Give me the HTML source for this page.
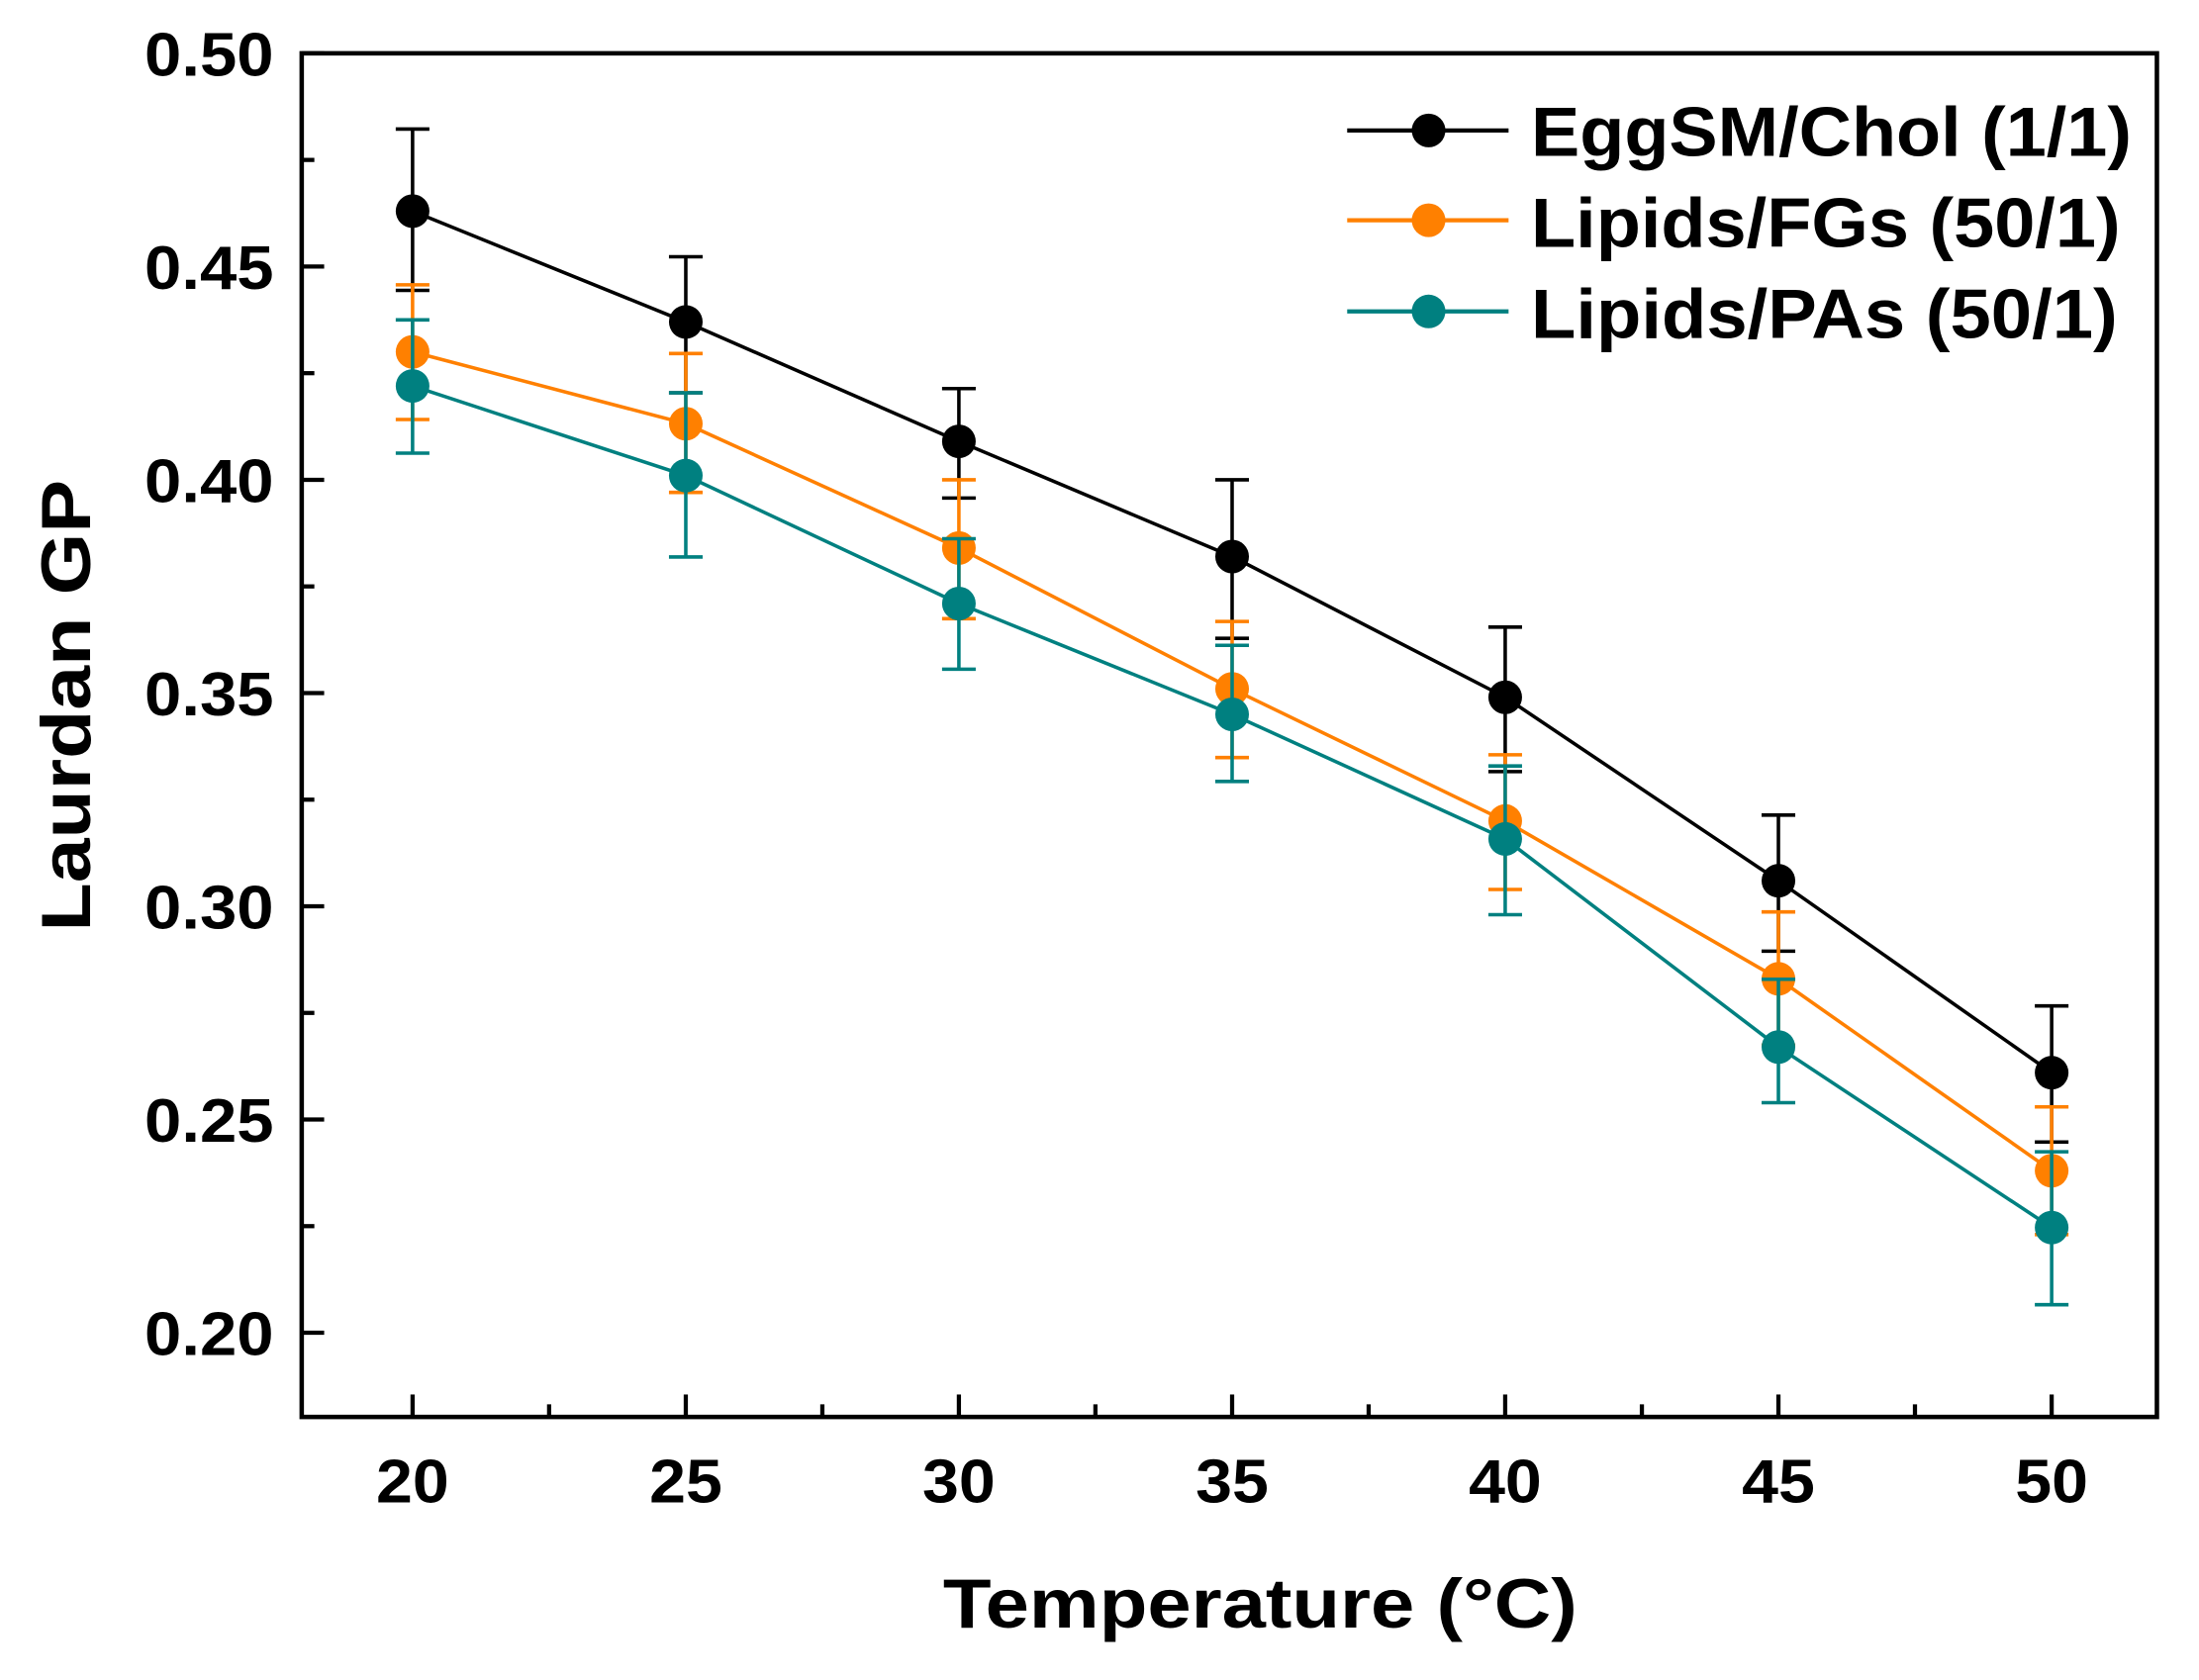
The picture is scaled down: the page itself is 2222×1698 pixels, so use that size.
<!DOCTYPE html>
<html><head><meta charset="utf-8"><style>
html,body{margin:0;padding:0;background:#fff;}
svg{display:block;}
text{font-family:"Liberation Sans",Arial,sans-serif;font-weight:bold;fill:#000;}
</style></head><body>
<svg width="2222" height="1698" viewBox="0 0 1567 1197.5" preserveAspectRatio="none" xmlns="http://www.w3.org/2000/svg">
<rect width="1567" height="1198" fill="#fff"/>
<rect x="215" y="38" width="1322" height="972" fill="none" stroke="#000" stroke-width="3.2"/>
<g stroke="#000" stroke-width="3">
<line x1="215" y1="38" x2="231" y2="38"/><line x1="215" y1="190" x2="231" y2="190"/><line x1="215" y1="342" x2="231" y2="342"/><line x1="215" y1="494" x2="231" y2="494"/><line x1="215" y1="646" x2="231" y2="646"/><line x1="215" y1="798" x2="231" y2="798"/><line x1="215" y1="950" x2="231" y2="950"/>
<line x1="215" y1="114" x2="224" y2="114"/><line x1="215" y1="266" x2="224" y2="266"/><line x1="215" y1="418" x2="224" y2="418"/><line x1="215" y1="570" x2="224" y2="570"/><line x1="215" y1="722" x2="224" y2="722"/><line x1="215" y1="874" x2="224" y2="874"/>
<line x1="294" y1="1010" x2="294" y2="994"/><line x1="488.7" y1="1010" x2="488.7" y2="994"/><line x1="683.3" y1="1010" x2="683.3" y2="994"/><line x1="878" y1="1010" x2="878" y2="994"/><line x1="1072.6" y1="1010" x2="1072.6" y2="994"/><line x1="1267.3" y1="1010" x2="1267.3" y2="994"/><line x1="1462" y1="1010" x2="1462" y2="994"/>
<line x1="391.3" y1="1010" x2="391.3" y2="1001"/><line x1="586" y1="1010" x2="586" y2="1001"/><line x1="780.6" y1="1010" x2="780.6" y2="1001"/><line x1="975.3" y1="1010" x2="975.3" y2="1001"/><line x1="1170" y1="1010" x2="1170" y2="1001"/><line x1="1364.6" y1="1010" x2="1364.6" y2="1001"/>
</g>
<g font-size="44" text-anchor="end">
<text x="195" y="54" textLength="92" lengthAdjust="spacingAndGlyphs">0.50</text><text x="195" y="206" textLength="92" lengthAdjust="spacingAndGlyphs">0.45</text><text x="195" y="358" textLength="92" lengthAdjust="spacingAndGlyphs">0.40</text><text x="195" y="510" textLength="92" lengthAdjust="spacingAndGlyphs">0.35</text><text x="195" y="662" textLength="92" lengthAdjust="spacingAndGlyphs">0.30</text><text x="195" y="814" textLength="92" lengthAdjust="spacingAndGlyphs">0.25</text><text x="195" y="966" textLength="92" lengthAdjust="spacingAndGlyphs">0.20</text>
</g>
<g font-size="44" text-anchor="middle">
<text x="294" y="1071" textLength="52" lengthAdjust="spacingAndGlyphs">20</text><text x="488.7" y="1071" textLength="52" lengthAdjust="spacingAndGlyphs">25</text><text x="683.3" y="1071" textLength="52" lengthAdjust="spacingAndGlyphs">30</text><text x="878" y="1071" textLength="52" lengthAdjust="spacingAndGlyphs">35</text><text x="1072.6" y="1071" textLength="52" lengthAdjust="spacingAndGlyphs">40</text><text x="1267.3" y="1071" textLength="52" lengthAdjust="spacingAndGlyphs">45</text><text x="1462" y="1071" textLength="52" lengthAdjust="spacingAndGlyphs">50</text>
</g>
<text x="898" y="1160" font-size="50" text-anchor="middle" textLength="452" lengthAdjust="spacingAndGlyphs">Temperature (°C)</text>
<text transform="translate(64,503) rotate(-90)" font-size="50" text-anchor="middle" textLength="322" lengthAdjust="spacingAndGlyphs">Laurdan GP</text>

<g stroke="#000" stroke-width="2.5" fill="none">
<path d="M294 92V207M282 92H306M282 207H306 M488.7 183V280M476.7 183H500.7M476.7 280H500.7 M683.3 277V355M671.3 277H695.3M671.3 355H695.3 M878 342V455M866 342H890M866 455H890 M1072.6 447V550M1060.6 447H1084.6M1060.6 550H1084.6 M1267.3 581V678M1255.3 581H1279.3M1255.3 678H1279.3 M1462 717V814M1450 717H1474M1450 814H1474"/>
<polyline points="294,150.5 488.7,229.5 683.3,314.6 878,396.7 1072.6,497 1267.3,627.8 1462,764.6"/>
</g>
<g fill="#000"><circle cx="294" cy="150.5" r="12"/><circle cx="488.7" cy="229.5" r="12"/><circle cx="683.3" cy="314.6" r="12"/><circle cx="878" cy="396.7" r="12"/><circle cx="1072.6" cy="497" r="12"/><circle cx="1267.3" cy="627.8" r="12"/><circle cx="1462" cy="764.6" r="12"/></g>

<g stroke="#ff8000" stroke-width="2.5" fill="none">
<path d="M294 203V299M282 203H306M282 299H306 M488.7 252V351M476.7 252H500.7M476.7 351H500.7 M683.3 342V441M671.3 342H695.3M671.3 441H695.3 M878 443V540M866 443H890M866 540H890 M1072.6 538V634M1060.6 538H1084.6M1060.6 634H1084.6 M1267.3 650V745M1255.3 650H1279.3M1255.3 745H1279.3 M1462 789V880M1450 789H1474M1450 880H1474"/>
<polyline points="294,250.8 488.7,302 683.3,390.6 878,491 1072.6,585.2 1267.3,697.7 1462,834.5"/>
</g>
<g fill="#ff8000"><circle cx="294" cy="250.8" r="12"/><circle cx="488.7" cy="302" r="12"/><circle cx="683.3" cy="390.6" r="12"/><circle cx="878" cy="491" r="12"/><circle cx="1072.6" cy="585.2" r="12"/><circle cx="1267.3" cy="697.7" r="12"/><circle cx="1462" cy="834.5" r="12"/></g>

<g stroke="#008080" stroke-width="2.5" fill="none">
<path d="M294 228V323M282 228H306M282 323H306 M488.7 280V397M476.7 280H500.7M476.7 397H500.7 M683.3 384V477M671.3 384H695.3M671.3 477H695.3 M878 460V557M866 460H890M866 557H890 M1072.6 546V652M1060.6 546H1084.6M1060.6 652H1084.6 M1267.3 698V786M1255.3 698H1279.3M1255.3 786H1279.3 M1462 821V930M1450 821H1474M1450 930H1474"/>
<polyline points="294,275.1 488.7,339 683.3,430.2 878,509.2 1072.6,598 1267.3,746.3 1462,875"/>
</g>
<g fill="#008080"><circle cx="294" cy="275.1" r="12"/><circle cx="488.7" cy="339" r="12"/><circle cx="683.3" cy="430.2" r="12"/><circle cx="878" cy="509.2" r="12"/><circle cx="1072.6" cy="598" r="12"/><circle cx="1267.3" cy="746.3" r="12"/><circle cx="1462" cy="875" r="12"/></g>

<line x1="960" y1="93" x2="1075" y2="93" stroke="#000" stroke-width="3"/><circle cx="1018" cy="93" r="12" fill="#000"/>
<line x1="960" y1="157" x2="1075" y2="157" stroke="#ff8000" stroke-width="3"/><circle cx="1018" cy="157" r="12" fill="#ff8000"/>
<line x1="960" y1="222" x2="1075" y2="222" stroke="#008080" stroke-width="3"/><circle cx="1018" cy="222" r="12" fill="#008080"/>
<g font-size="50">
<text x="1091" y="111" textLength="428" lengthAdjust="spacingAndGlyphs">EggSM/Chol (1/1)</text>
<text x="1091" y="176" textLength="420" lengthAdjust="spacingAndGlyphs">Lipids/FGs (50/1)</text>
<text x="1091" y="241" textLength="418" lengthAdjust="spacingAndGlyphs">Lipids/PAs (50/1)</text>
</g>
</svg>
</body></html>
